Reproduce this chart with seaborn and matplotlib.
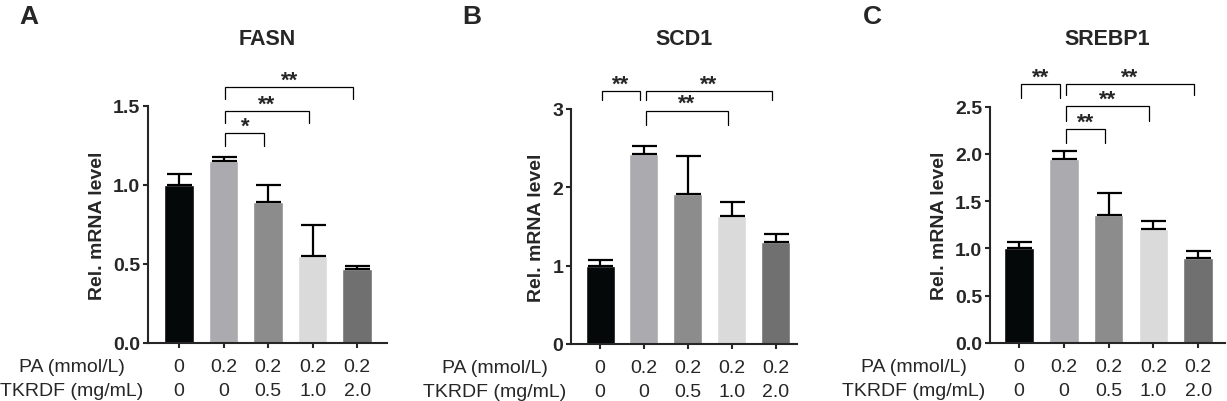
import numpy as np
import pandas as pd
import seaborn as sns
import matplotlib
matplotlib.use("Agg")
import matplotlib.pyplot as plt

# treatment groups (x axis)
pa_dose = ["0", "0.2", "0.2", "0.2", "0.2"]
tkrdf_dose = ["0", "0", "0.5", "1.0", "2.0"]
bar_colors = ["#050808", "#ababaf", "#8c8c8c", "#dadada", "#707070"]

genes = ["FASN", "SCD1", "SREBP1"]
panel_letters = ["A", "B", "C"]

# relative mRNA level, mean and upper error (SD)
fasn_mean = [1.0, 1.15, 0.89, 0.55, 0.47]
fasn_err = [0.07, 0.025, 0.11, 0.20, 0.02]
scd1_mean = [1.0, 2.42, 1.92, 1.64, 1.30]
scd1_err = [0.07, 0.11, 0.48, 0.17, 0.10]
srebp1_mean = [1.0, 1.95, 1.35, 1.21, 0.90]
srebp1_err = [0.065, 0.085, 0.24, 0.08, 0.07]

# y axis ticks
fasn_ticks = [0.0, 0.5, 1.0, 1.5]
scd1_ticks = [0, 1, 2, 3]
srebp1_ticks = [0.0, 0.5, 1.0, 1.5, 2.0, 2.5]

# significance brackets: (group a, group b, bracket height, leg end, label)
fasn_sig = [(1, 2, 1.327, 1.249, "*"), (1, 3, 1.47, 1.39, "**"), (1, 4, 1.618, 1.544, "**")]
scd1_sig = [(0, 1, 3.227, 3.12, "**"), (1, 3, 2.98, 2.79, "**"), (1, 4, 3.227, 3.12, "**")]
srebp1_sig = [(0, 1, 2.74, 2.59, "**"), (1, 2, 2.26, 2.12, "**"),
              (1, 3, 2.51, 2.35, "**"), (1, 4, 2.74, 2.62, "**")]

TICK_LEN = 3.6
XPAD = 7
LSP = 1.57


def add_brackets(ax, sig):
    for a, b, yl, yleg, lab in sig:
        x0, x1 = a + 0.04, b - 0.09
        ax.plot([x0, x0, x1, x1], [yleg, yl, yl, yleg], color="black", lw=0.9,
                clip_on=False, solid_joinstyle="miter")
        ax.annotate(lab, xy=((x0 + x1) / 2, yl), xytext=(0, 1), textcoords="offset points",
                    ha="center", va="baseline", fontsize=16, fontweight="bold",
                    annotation_clip=False)


def draw_panel(ax, mean, err, ticks, sig, xlim, fmt):
    df = pd.DataFrame({"group": [f"{p}\n{t}" for p, t in zip(pa_dose, tkrdf_dose)],
                       "level": mean})
    sns.barplot(data=df, x="group", y="level", hue="group", palette=bar_colors,
                legend=False, width=0.66, saturation=1, errorbar=None, ax=ax)
    ax.errorbar(np.arange(len(mean)), mean, yerr=[np.zeros(len(err)), err], fmt="none",
                ecolor="black", elinewidth=1.6, capsize=9, capthick=1.6)
    ax.set_ylim(ticks[0], ticks[-1])
    ax.set_yticks(ticks)
    ax.set_yticklabels([fmt.format(t) for t in ticks], fontweight="bold", fontsize=14)
    ax.set_xlim(*xlim)
    ax.set_xlabel("")
    ax.set_ylabel("Rel. mRNA level", fontsize=14, fontweight="bold", labelpad=5)
    ax.tick_params(axis="x", labelsize=14, length=TICK_LEN, width=1.5, pad=XPAD)
    for lab in ax.get_xticklabels():
        lab.set_linespacing(LSP)
    ax.tick_params(axis="y", length=TICK_LEN, width=1.5, pad=2)
    for s in ["left", "bottom"]:
        ax.spines[s].set_linewidth(1.5)
    sns.despine(ax=ax)
    add_brackets(ax, sig)
    ax.annotate("PA (mmol/L)\nTKRDF (mg/mL)", xy=(0, 0), xycoords="axes fraction",
                xytext=(-54.7, -(TICK_LEN + XPAD)), textcoords="offset points",
                ha="center", va="top", multialignment="center", fontsize=14,
                linespacing=LSP)


sns.set_style("ticks")
plt.rcParams["font.family"] = ["Liberation Sans", "DejaVu Sans"]

W, H = 1227, 402
fig = plt.figure(figsize=(W / 100, H / 100), dpi=100)

# axes boxes in pixels: left, top, right, bottom
boxes = [(148, 107, 387, 344), (571, 110, 797, 345), (990, 107.7, 1225, 344)]
xlims = [(-0.70, 4.67), (-0.66, 4.48), (-0.65, 4.6)]
means = [fasn_mean, scd1_mean, srebp1_mean]
errs = [fasn_err, scd1_err, srebp1_err]
tick_sets = [fasn_ticks, scd1_ticks, srebp1_ticks]
sigs = [fasn_sig, scd1_sig, srebp1_sig]
fmts = ["{:.1f}", "{:d}", "{:.1f}"]
letter_x = [29, 472, 872]

for k in range(3):
    l, t, r, b = boxes[k]
    ax = fig.add_axes([l / W, 1 - b / H, (r - l) / W, (b - t) / H])
    draw_panel(ax, means[k], errs[k], tick_sets[k], sigs[k], xlims[k], fmts[k])
    ax.set_title(genes[k], fontsize=15.5, fontweight="bold", pad=(t - 45) * 0.72)
    fig.text(letter_x[k] / W, 1 - 24 / H, panel_letters[k], fontsize=19, fontweight="bold",
             ha="center", va="baseline")

fig.savefig("out.png", dpi=100)
